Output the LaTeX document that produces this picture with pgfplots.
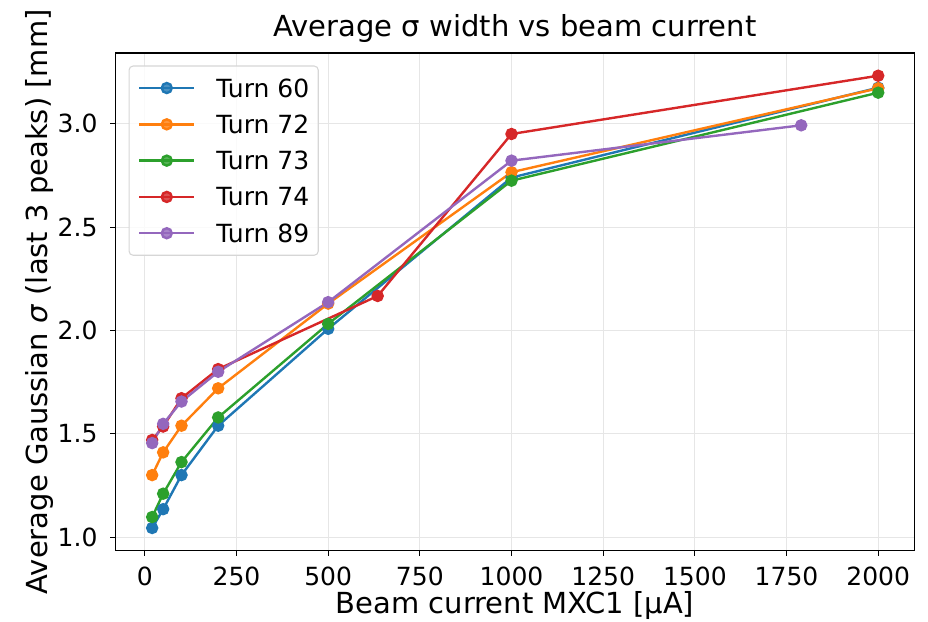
\documentclass[border=0pt]{standalone}
\usepackage{pgfplots}
\pgfplotsset{compat=1.18}
\usepackage{fontspec}
\setmainfont{DejaVu Sans}

% tab10 colours
\definecolor{c0}{HTML}{1F77B4}
\definecolor{c1}{HTML}{FF7F0E}
\definecolor{c2}{HTML}{2CA02C}
\definecolor{c3}{HTML}{D62728}
\definecolor{c4}{HTML}{9467BD}
\definecolor{gridgray}{RGB}{230,230,230}
\definecolor{framegray}{RGB}{214,214,214}

\begin{document}
\begin{tikzpicture}[x=1pt,y=1pt]
\useasboundingbox (-115.5,-70.5) rectangle (812.5,550.5);
\begin{axis}[
  at={(0,0)}, anchor=south west,
  width=799pt, height=497.5pt, scale only axis,
  xmin=-80, xmax=2099,
  ymin=0.935, ymax=3.343,
  xtick={0,250,...,2000},
  ytick={1.0,1.5,2.0,2.5,3.0},
  xtick pos=bottom, ytick pos=left,
  tick align=outside,
  major tick length=5pt,
  every tick/.style={black, line width=1.1pt},
  axis line style={black, line width=1.1pt},
  grid=major,
  major grid style={gridgray, line width=1.1pt},
  /pgf/number format/assume math mode=true,
  /pgf/number format/1000 sep={},
  ticklabel style={font=\fontsize{25}{30}\selectfont},
  yticklabel style={/pgf/number format/fixed, /pgf/number format/fixed zerofill, /pgf/number format/precision=1},
  xticklabel style={anchor=base, inner sep=0pt, yshift=-29.5pt},
  yticklabel style={anchor=east, inner sep=0pt, xshift=-12.8pt},
  title={Average σ width vs beam current},
  title style={font=\fontsize{29}{34}\selectfont, at={(axis description cs:0.5,1)}, anchor=base, inner sep=0pt, yshift=10pt},
  xlabel={Beam current MXC1 [μA]},
  xlabel style={font=\fontsize{29}{34}\selectfont, at={(axis description cs:0.5,0)}, anchor=base, inner sep=0pt, yshift=-62.5pt},
  ylabel={Average Gaussian \textit{σ} (last 3 peaks) [mm]},
  % the label is turned by 90 degrees, so its own y direction points left
  ylabel style={font=\fontsize{29}{34}\selectfont, at={(axis description cs:0,0.5)}, anchor=base, inner sep=0pt, yshift=67.5pt},
  every axis plot/.append style={line width=2.4pt, mark=*, mark size=5pt, mark options={solid}},
  legend image code/.code={
    \draw[mark repeat=2, mark phase=2] plot coordinates {(0pt,0pt) (27.5pt,0pt) (55pt,0pt)};
  },
  legend cell align=left,
  legend style={
    at={(axis description cs:0.0163,0.9749)}, anchor=north west,
    draw=framegray, line width=1.1pt, rounded corners=4pt,
    fill=white, fill opacity=0.8, text opacity=1,
    font=\fontsize{25}{30}\selectfont,
    inner xsep=9pt, inner ysep=13pt,
    row sep=18.3pt, column sep=21pt,
    nodes={inner sep=0pt, text height=18pt, text depth=0pt},
  },
]
\addplot[color=c0] coordinates {(20,1.044) (50,1.135) (100,1.300) (200,1.539) (500,2.008) (1000,2.740) (2000,3.175)};
\addlegendentry{Turn 60}
\addplot[color=c1] coordinates {(20,1.300) (50,1.410) (100,1.539) (200,1.720) (500,2.130) (1000,2.766) (2000,3.172)};
\addlegendentry{Turn 72}
\addplot[color=c2] coordinates {(20,1.097) (50,1.210) (100,1.363) (200,1.579) (500,2.032) (1000,2.725) (2000,3.151)};
\addlegendentry{Turn 73}
\addplot[color=c3] coordinates {(20,1.470) (50,1.535) (100,1.672) (200,1.813) (635,2.167) (1000,2.951) (2000,3.233)};
\addlegendentry{Turn 74}
\addplot[color=c4] coordinates {(20,1.455) (50,1.548) (100,1.656) (200,1.800) (500,2.137) (1000,2.822) (1790,2.993)};
\addlegendentry{Turn 89}
\end{axis}
\end{tikzpicture}
\end{document}
